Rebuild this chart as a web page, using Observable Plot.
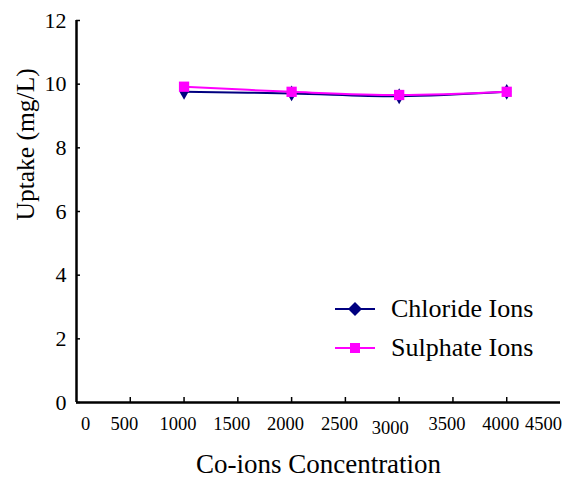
<!DOCTYPE html>
<html>
<head>
<meta charset="utf-8">
<script src="https://cdn.jsdelivr.net/npm/d3@7"></script>
<script src="https://cdn.jsdelivr.net/npm/@observablehq/plot@0.6"></script>
<style>
  body { margin: 0; background: #fff; font-family: "Liberation Serif", "DejaVu Serif", serif; }
  svg, svg text { font-family: "Liberation Serif", "DejaVu Serif", serif !important; }
  #wrap { position: relative; width: 571px; height: 479px; }
  #legend { position: absolute; left: 333px; top: 289px; font-size: 26px; color: #000; }
  .row { display: flex; align-items: center; height: 39px; }
  .row svg { margin-right: 14px; }
</style>
</head>
<body>
<div id="wrap"><div id="chart"></div>
  <div id="legend">
    <div class="row"><svg width="44" height="20"><line x1="2" x2="42" y1="10" y2="10" stroke="#000080" stroke-width="2"/><path d="M22,3 L29,10 L22,17 L15,10 Z" fill="#000080"/></svg><span>Chloride Ions</span></div>
    <div class="row"><svg width="44" height="20"><line x1="2" x2="42" y1="10" y2="10" stroke="#ff00ff" stroke-width="2"/><rect x="17" y="5" width="10" height="10" fill="#ff00ff"/></svg><span>Sulphate Ions</span></div>
  </div>
</div>
<script>
const concentrations = [1000, 2000, 3000, 4000];
const chloride = [9.76, 9.71, 9.62, 9.76];
const sulphate = [9.92, 9.76, 9.66, 9.76];
const xTickLabels = [500, 1000, 1500, 2000, 2500, 3500, 4000];
const xTickLabelFirst = [0];
const xTickLabelLast = [4500];
const xTickLabelsLow = [3000];
const xTickMarks = [500, 1000, 1500, 2000, 2500, 3000, 3500, 4000];
const yTicks = [0, 2, 4, 6, 8, 10, 12];

const chl = concentrations.map((c, i) => ({x: c, y: chloride[i]}));
const sul = concentrations.map((c, i) => ({x: c, y: sulphate[i]}));

const xLab = (ticks, dx, pad) => Plot.axisX({ticks, tickSize: 0, tickPadding: pad, dx, fontSize: 18.5, label: null, tickFormat: d => String(d)});

const chart = Plot.plot({
  width: 571,
  height: 479,
  marginLeft: 76,
  marginRight: 11,
  marginTop: 20,
  marginBottom: 77,
  style: {background: "#fff", color: "#000"},
  x: {domain: [0, 4500]},
  y: {domain: [0, 12]},
  marks: [
    Plot.axisY({ticks: yTicks, tickSize: 0, tickPadding: 10, fontSize: 22, label: null}),
    Plot.axisY({ticks: yTicks, tickSize: -4, text: null, label: null, strokeWidth: 1.5}),
    xLab(xTickLabels, -6, 14),
    xLab(xTickLabelFirst, 9, 14),
    xLab(xTickLabelLast, -17, 14),
    xLab(xTickLabelsLow, -9, 18),
    Plot.axisX({ticks: xTickMarks, tickSize: -5, text: null, label: null, strokeWidth: 1.5}),
    Plot.text(["Co-ions Concentration"], {frameAnchor: "bottom", dy: 70, fontSize: 27}),
    Plot.text(["Uptake (mg/L)"], {frameAnchor: "left", dx: -51, dy: 9, rotate: -90, fontSize: 25.5}),
    Plot.ruleX([0], {stroke: "#000", strokeWidth: 2.5}),
    Plot.ruleY([0], {stroke: "#000", strokeWidth: 2.5}),
    Plot.line(chl, {x: "x", y: "y", stroke: "#000080", strokeWidth: 2, curve: "catmull-rom"}),
    Plot.dot(chl, {x: "x", y: "y", symbol: "diamond", r: 4.8, fill: "#000080", stroke: "none"}),
    Plot.line(sul, {x: "x", y: "y", stroke: "#ff00ff", strokeWidth: 2, curve: "catmull-rom"}),
    Plot.dot(sul, {x: "x", y: "y", symbol: "square", r: 5.8, fill: "#ff00ff", stroke: "none"})
  ]
});
document.getElementById("chart").appendChild(chart);
</script>
</body>
</html>
